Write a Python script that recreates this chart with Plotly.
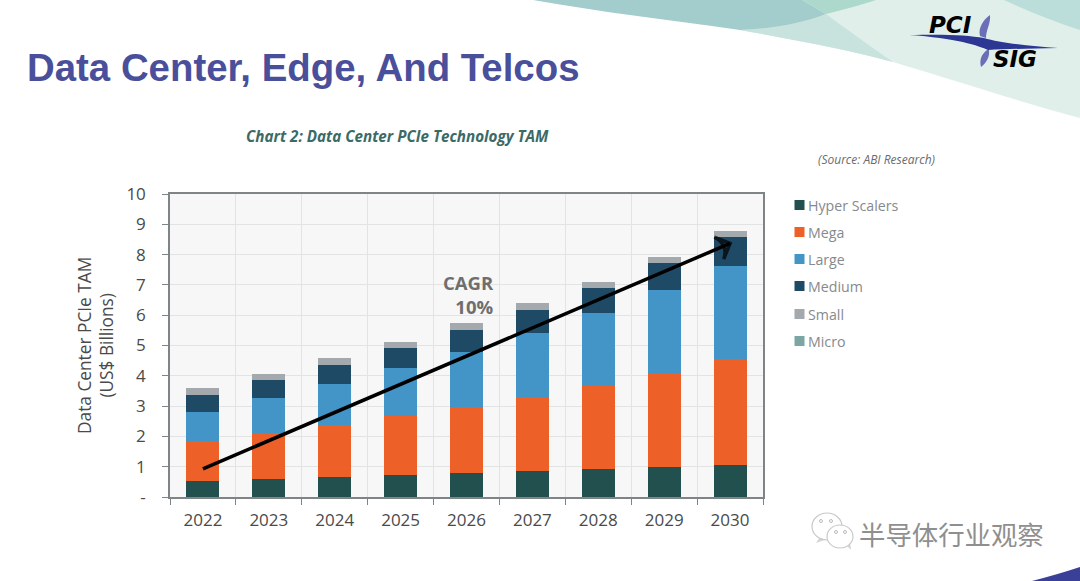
import plotly.graph_objects as go

# values (US$ billions per segment)
years = ['2022', '2023', '2024', '2025', '2026', '2027', '2028', '2029', '2030']
hyper_scalers = [0.52, 0.59, 0.66, 0.73, 0.78, 0.85, 0.91, 0.98, 1.07]
mega = [1.32, 1.51, 1.72, 1.94, 2.18, 2.44, 2.77, 3.11, 3.47]
large = [0.97, 1.17, 1.36, 1.58, 1.84, 2.12, 2.40, 2.73, 3.09]
medium = [0.57, 0.58, 0.63, 0.67, 0.72, 0.77, 0.83, 0.89, 0.95]
small = [0.23, 0.22, 0.22, 0.21, 0.21, 0.22, 0.20, 0.20, 0.20]
micro = [0, 0, 0, 0, 0, 0, 0, 0, 0]

series_names = ['Hyper Scalers', 'Mega', 'Large', 'Medium', 'Small', 'Micro']
series_values = [hyper_scalers, mega, large, medium, small, micro]
series_colors = ['#22504e', '#ed6128', '#4394c7', '#1f4a66', '#a3a9ac', '#7ba6a3']

y_ticks = [0, 1, 2, 3, 4, 5, 6, 7, 8, 9, 10]
y_labels = ['-', '1', '2', '3', '4', '5', '6', '7', '8', '9', '10']

# the CAGR arrow
arrow_x = ['2022', '2030']
arrow_y = [0.93, 8.37]

W, H = 1080, 581
L, R, T, B = 170, 763, 194, 497

# pixel position on the slide -> paper coordinates
def px(x):
    return (x - L) / (R - L)

def py(y):
    return (B - y) / (B - T)

fig = go.Figure()

for name, vals, col in zip(series_names, series_values, series_colors):
    fig.add_trace(go.Bar(x=years, y=vals, name=name, marker_color=col, marker_line_width=0))

fig.add_trace(go.Scatter(x=arrow_x, y=arrow_y, mode='lines+markers',
                         line=dict(color='black', width=3.5),
                         marker=dict(symbol=['circle', 'arrow-wide-open'], size=[3.5, 17], color='black',
                                     angleref='previous', line=dict(color='black', width=3.5)),
                         showlegend=False))

shapes = []

def curve(d, color, layer='below'):
    shapes.append(dict(type='path', path=d, xref='paper', yref='paper', fillcolor=color,
                       line_width=0, layer=layer))

def P(x, y):
    return f'{px(x):.5f},{py(y):.5f}'

# slide background swooshes, top right
curve(f'M{P(740, 30)} C{P(790, 39)} {P(850, 50)} {P(893, 62)} C{P(960, 82)} {P(1020, 102)} {P(1080, 118)} L{P(1080, 0)} L{P(790, 0)} Z', '#e0efea')
curve(f'M{P(740, 30)} C{P(790, 39)} {P(850, 50)} {P(893, 62)} C{P(870, 46)} {P(845, 28)} {P(826, 14)} C{P(800, 24)} {P(770, 29)} {P(740, 30)} Z', '#c8e3dd')
curve(f'M{P(533, 0)} C{P(600, 12)} {P(670, 20)} {P(740, 30)} C{P(770, 29)} {P(800, 24)} {P(826, 14)} L{P(802, 0)} Z', '#a2cdcc')
curve(f'M{P(802, 0)} L{P(826, 14)} C{P(845, 9)} {P(862, 5)} {P(876, 0)} Z', '#acd9cc')
curve(f'M{P(1004, 0)} C{P(1030, 12)} {P(1055, 22)} {P(1080, 30)} L{P(1080, 0)} Z', '#bcdeda')

# bottom right corner
curve(f'M{P(1032, 581)} C{P(1050, 576)} {P(1066, 572)} {P(1080, 567)} L{P(1080, 581)} Z', '#3a3f97')

# logo swoosh, petals first then the band
curve(f'M{P(980, 36)} C{P(978, 28)} {P(983, 20)} {P(990, 15)} C{P(991, 23)} {P(986, 30)} {P(986, 38)} Z', '#6a6fb8')
curve(f'M{P(981, 67)} C{P(979, 59)} {P(982, 54)} {P(987, 50)} L{P(989, 50)} C{P(990, 57)} {P(986, 63)} {P(981, 67)} Z', '#6a6fb8')
curve(f'M{P(909, 35)} C{P(945, 34)} {P(968, 35)} {P(984, 38)} C{P(1000, 43)} {P(1030, 46)} {P(1058, 48)} C{P(1030, 48.5)} {P(1005, 49)} {P(988, 50)} C{P(980, 46)} {P(955, 38)} {P(909, 35)} Z', '#2c3794')

# WeChat icon: two bubbles with their dots
bubble = dict(type='circle', xref='paper', yref='paper', fillcolor='white',
              line=dict(color='#c9c9c9', width=1.2))
curve(f'M{P(820, 537)} L{P(816, 543)} L{P(827, 539)} Z', '#d4d4d4')
curve(f'M{P(846, 545)} L{P(851, 550)} L{P(850, 542)} Z', '#d4d4d4')
shapes.append(dict(bubble, x0=px(812), x1=px(842), y0=py(540), y1=py(513)))
shapes.append(dict(bubble, x0=px(827), x1=px(853), y0=py(548), y1=py(525)))
for cx, cy in [(821, 521), (831, 521), (836, 532), (845, 532)]:
    shapes.append(dict(type='circle', xref='paper', yref='paper', fillcolor='white',
                       line=dict(color='#bbbbbb', width=1),
                       x0=px(cx - 1.5), x1=px(cx + 1.5), y0=py(cy + 1.5), y1=py(cy - 1.5)))

annotations = []

def label(x, y, text, size, color, anchor='left', family='Open Sans', **kw):
    annotations.append(dict(x=px(x), y=py(y), xref='paper', yref='paper', text=text, showarrow=False,
                            xanchor=anchor, yanchor='middle', align=anchor if anchor != 'center' else 'center',
                            font=dict(size=size, color=color, family=family), **kw))

label(25, 67.5, '<b>Data Center, Edge, And Telcos</b>', 38.4, '#4a4f9b', family='Liberation Sans')
label(244, 136, '<b><i>Chart 2: Data Center PCIe Technology TAM</i></b>', 15.2, '#3b6a67')
label(816, 159, '<i>(Source: ABI Research)</i>', 12, '#6b6b6b')
label(496, 294, '<b>CAGR<br>10%</b>', 18.5, '#6e6e6e', anchor='right')
label(95, 346, 'Data Center PCIe TAM<br>(US$ Billions)', 17.3, '#4a4a4a', anchor='center', textangle=-90)

# logo lettering
label(927, 25, '<b><i>PCI</i></b>', 23, '#000000', family='DejaVu Sans')
label(991, 59, '<b><i>SIG</i></b>', 23, '#000000', family='DejaVu Sans')

# legend entries
legend_y = [205, 232, 259, 286, 314, 341]
for name, col, ly in zip(series_names, series_colors, legend_y):
    shapes.append(dict(type='rect', xref='paper', yref='paper', fillcolor=col, line_width=0,
                       x0=px(794.5), x1=px(804.5), y0=py(ly + 5), y1=py(ly - 5)))
    label(806, ly, name, 14.2, '#858a8d')

# WeChat account name
label(857, 533, '半导体行业观察', 26.4, '#8f8f8f', family='Noto Sans CJK SC')

fig.update_layout(
    width=W, height=H,
    margin=dict(l=L, r=W - R, t=T, b=H - B, pad=0),
    barmode='stack', bargap=0.5,
    showlegend=False,
    paper_bgcolor='white', plot_bgcolor='#f7f7f7',
    font=dict(family='Open Sans', color='#4a4a4a'),
    shapes=shapes, annotations=annotations,
)
fig.update_xaxes(type='category', range=[-0.5, 8.5], tickson='boundaries', ticks='outside', ticklen=6,
                 tickcolor='#7f8487', showline=True, linecolor='#7f8487', linewidth=1.5, mirror=True,
                 showgrid=True, gridcolor='#e2e3e3', gridwidth=1.2, ticklabelstandoff=7,
                 tickfont=dict(size=17, color='#4a4a4a'))
fig.update_yaxes(range=[0, 10], tickvals=y_ticks, ticktext=y_labels, ticks='outside', ticklen=6,
                 tickcolor='#7f8487', showline=True, linecolor='#7f8487', linewidth=1.5, mirror=True,
                 showgrid=True, gridcolor='#e2e3e3', gridwidth=1.2, zeroline=False, ticklabelstandoff=13,
                 tickfont=dict(size=17, color='#4a4a4a'))

# the page's default body margin would push the 1080x581 figure off the window
fig.write_html("out.html", config={'displayModeBar': False},
               post_script="document.body.style.margin='0'; document.body.style.overflow='hidden';")
